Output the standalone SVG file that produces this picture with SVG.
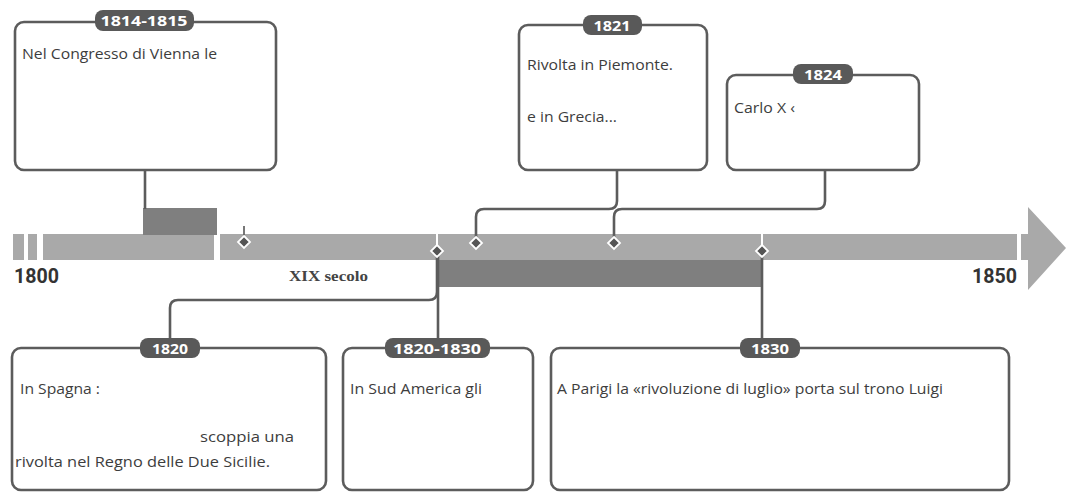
<svg xmlns="http://www.w3.org/2000/svg" width="1067" height="494" viewBox="0 0 1067 494">
<style>
.box{fill:#fff;stroke:#5c5c5c;stroke-width:2.6}
.pill{fill:#595959}
.pt{font-family:"Open Sans","Noto Sans",sans-serif;font-weight:bold;font-size:15px;fill:#fff;text-anchor:middle}
.tx{font-family:"Open Sans","Noto Sans",sans-serif;font-size:15px;fill:#3d3d3d}
.con{fill:none;stroke:#5c5c5c;stroke-width:2.6}
.bar{fill:#a9a9a9}
.dark{fill:#7f7f7f}
.dia{fill:#555;stroke:#fff;stroke-width:1.8}
.yr{font-family:Roboto,"Liberation Sans",sans-serif;font-weight:bold;font-size:20px;fill:#333}
</style>
<rect width="1067" height="494" fill="#fff"/>
<g id="timeline">
<rect class="bar" x="13" y="234" width="11" height="26"/>
<rect class="bar" x="28" y="234" width="9" height="26"/>
<rect class="bar" x="43" y="234" width="171" height="26"/>
<rect class="bar" x="220" y="234" width="797" height="26"/>
<polygon class="bar" points="1021,234 1028,234 1028,207 1066,248 1028,290 1028,260 1021,260"/>
<rect class="dark" x="143" y="208" width="74" height="27"/>
<rect class="dark" x="438" y="260" width="324" height="27"/>
<line x1="437" y1="234" x2="437" y2="250" stroke="#fff" stroke-width="2"/>
<line x1="762" y1="234" x2="762" y2="250" stroke="#fff" stroke-width="2"/>
<line x1="244" y1="226" x2="244" y2="236" stroke="#555" stroke-width="1.6"/>
<text class="yr" x="14" y="283" textLength="45" lengthAdjust="spacingAndGlyphs">1800</text>
<text class="yr" x="1017" y="283" text-anchor="end" textLength="45" lengthAdjust="spacingAndGlyphs">1850</text>
<text x="289" y="281" font-family="'Liberation Serif',serif" font-weight="bold" font-size="15" fill="#444" textLength="79" lengthAdjust="spacingAndGlyphs">XIX secolo</text>
</g>
<g id="connectors">
<line class="con" x1="145" y1="170" x2="145" y2="209"/>
<path class="con" d="M617,170 V201 Q617,209 609,209 H484 Q476,209 476,217 V240"/>
<path class="con" d="M825,170 V201 Q825,209 817,209 H622 Q614,209 614,217 V240"/>
<path class="con" d="M170,348 V308 Q170,300 178,300 H429 Q437,300 437,292 V254"/>
<line class="con" x1="438" y1="254" x2="438" y2="348"/>
<line class="con" x1="762" y1="254" x2="762" y2="348"/>
</g>
<g id="diamonds">
<polygon class="dia" points="244,236 250,242 244,248 238,242"/>
<polygon class="dia" points="437,245 443,251 437,257 431,251"/>
<polygon class="dia" points="476,237 482,243 476,249 470,243"/>
<polygon class="dia" points="614,237 620,243 614,249 608,243"/>
<polygon class="dia" points="762,245 768,251 762,257 756,251"/>
</g>
<g id="node-1814">
<rect class="box" x="15" y="22" width="261" height="148" rx="9"/>
<rect class="pill" x="95" y="10" width="99" height="21" rx="8"/>
<text class="pt" x="144" y="26" textLength="87" lengthAdjust="spacingAndGlyphs">1814-1815</text>
<text class="tx" x="22" y="59" textLength="195" lengthAdjust="spacingAndGlyphs">Nel Congresso di Vienna le</text>
</g>
<g id="node-1821">
<rect class="box" x="519" y="25" width="188" height="145" rx="9"/>
<rect class="pill" x="583" y="15" width="59" height="20" rx="8"/>
<text class="pt" x="612" y="30.5" textLength="37" lengthAdjust="spacingAndGlyphs">1821</text>
<text class="tx" x="527" y="70" textLength="146" lengthAdjust="spacingAndGlyphs">Rivolta in Piemonte.</text>
<text class="tx" x="527" y="122" textLength="90" lengthAdjust="spacingAndGlyphs">e in Grecia...</text>
</g>
<g id="node-1824">
<rect class="box" x="727" y="75" width="192" height="95" rx="9"/>
<rect class="pill" x="793" y="64" width="60" height="20" rx="8"/>
<text class="pt" x="823" y="79.5" textLength="38" lengthAdjust="spacingAndGlyphs">1824</text>
<text class="tx" x="734" y="113" textLength="61" lengthAdjust="spacingAndGlyphs">Carlo X ‹</text>
</g>
<g id="node-1820">
<rect class="box" x="12" y="348" width="314" height="142" rx="9"/>
<rect class="pill" x="140" y="338" width="60" height="20" rx="8"/>
<text class="pt" x="170" y="353.5" textLength="36" lengthAdjust="spacingAndGlyphs">1820</text>
<text class="tx" x="20" y="394" textLength="80" lengthAdjust="spacingAndGlyphs">In Spagna :</text>
<text class="tx" x="200" y="442" textLength="94" lengthAdjust="spacingAndGlyphs">scoppia una</text>
<text class="tx" x="15" y="467" textLength="255" lengthAdjust="spacingAndGlyphs">rivolta nel Regno delle Due Sicilie.</text>
</g>
<g id="node-1820-1830">
<rect class="box" x="343" y="348" width="190" height="142" rx="9"/>
<rect class="pill" x="385" y="338" width="105" height="20" rx="8"/>
<text class="pt" x="437" y="353.5" textLength="88" lengthAdjust="spacingAndGlyphs">1820-1830</text>
<text class="tx" x="350" y="394" textLength="132" lengthAdjust="spacingAndGlyphs">In Sud America gli</text>
</g>
<g id="node-1830">
<rect class="box" x="551" y="348" width="458" height="142" rx="9"/>
<rect class="pill" x="740" y="338" width="60" height="20" rx="8"/>
<text class="pt" x="770" y="353.5" textLength="38" lengthAdjust="spacingAndGlyphs">1830</text>
<text class="tx" x="557" y="394" textLength="386" lengthAdjust="spacingAndGlyphs">A Parigi la «rivoluzione di luglio» porta sul trono Luigi</text>
</g>
</svg>
